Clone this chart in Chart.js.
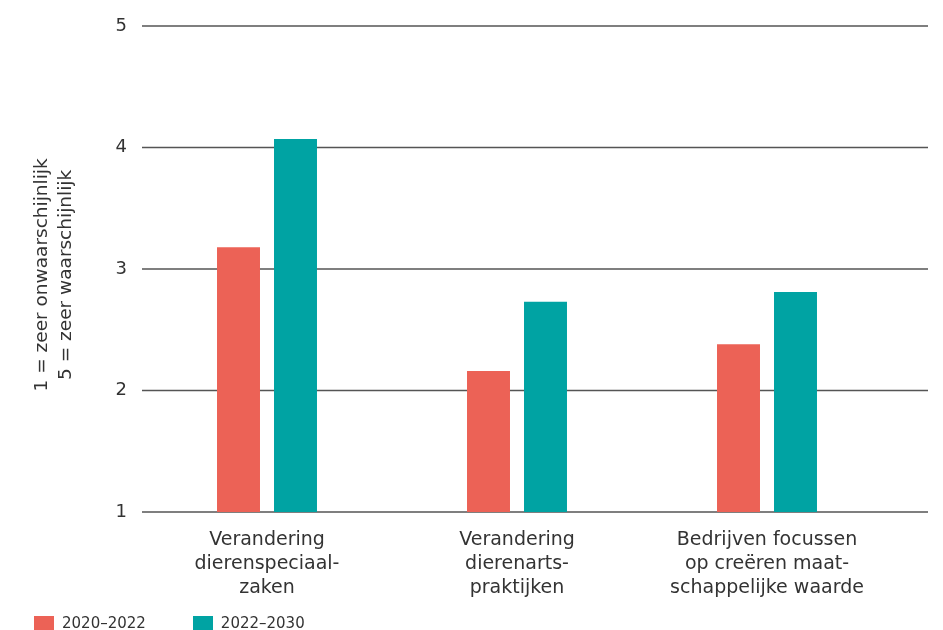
<!DOCTYPE html>
<html>
<head>
<meta charset="utf-8">
<script src="https://cdn.jsdelivr.net/npm/chart.js@4"></script>
<style>
  body { margin: 0; background: #fff; }
  #wrap { position: relative; width: 943px; height: 630px; }
  #legend { position: absolute; left: 34px; top: 614px; display: flex; font: 15px 'DejaVu Sans', sans-serif; color: #333; }
  .item { display: flex; align-items: center; }
  .box { width: 20px; height: 14px; margin-right: 8px; }
</style>
</head>
<body>
<div id="wrap">
  <canvas id="myChart" width="943" height="630"></canvas>
  <div id="legend"></div>
</div>
<script>
'use strict';

// ******* DATA *******
let categories = [
  ['Verandering', 'dierenspeciaal-', 'zaken'],
  ['Verandering', 'dierenarts-', 'praktijken'],
  ['Bedrijven focussen', 'op creëren maat-', 'schappelijke waarde']
];
let seriesNames = ['2020–2022', '2022–2030'];
let values2020 = [3.18, 2.16, 2.38];
let values2022 = [4.07, 2.73, 2.81];
let yTicks = [1, 2, 3, 4, 5];
let yTitle = ['1 = zeer onwaarschijnlijk', '5 = zeer waarschijnlijk'];

let colors = ['#EC6256', '#00A3A3'];
let fontFamily = "'DejaVu Sans', sans-serif";

// ***** PLUGIN: gridlines that run past the last category *****
const fullGrid = {
  id: 'fullGrid',
  beforeDatasetsDraw(chart) {
    const { ctx, chartArea, scales: { y } } = chart;
    ctx.save();
    ctx.strokeStyle = '#555';
    ctx.lineWidth = 1.5;
    y.ticks.forEach(t => {
      let py = y.getPixelForValue(t.value);
      ctx.beginPath();
      ctx.moveTo(chartArea.left, py);
      ctx.lineTo(chartArea.right + 36, py);
      ctx.stroke();
    });
    ctx.restore();
  }
};

// ***** CHART *****
const data = {
  labels: categories,
  datasets: [{
    label: seriesNames[0],
    data: values2020,
    backgroundColor: colors[0]
  },
  {
    label: seriesNames[1],
    data: values2022,
    backgroundColor: colors[1]
  }]
};

const config = {
  type: 'bar',
  data: data,
  options: {
    responsive: false,
    animation: false,
    datasets: {
      bar: { categoryPercentage: 0.456, barPercentage: 0.754 }
    },
    layout: { padding: { left: 0, right: 51, top: 26, bottom: 0 } },
    plugins: {
      legend: { display: false },
      tooltip: { enabled: false }
    },
    scales: {
      x: {
        grid: { display: false },
        border: { display: false },
        ticks: {
          color: '#333',
          padding: 8,
          maxRotation: 0,
          font: { family: fontFamily, size: 19, lineHeight: 1.26 }
        },
        afterFit(scale) { scale.height = 118; }
      },
      y: {
        min: 1,
        max: 5,
        grid: { display: false, drawTicks: false },
        border: { display: false },
        afterBuildTicks(scale) { scale.ticks = yTicks.map(v => ({ value: v })); },
        ticks: {
          color: '#333',
          padding: 15,
          font: { family: fontFamily, size: 18 }
        },
        title: {
          display: true,
          // trailing spaces nudge the rotated title a bit lower
          text: yTitle.map(t => t + '\u00a0\u00a0'),
          color: '#333',
          padding: { top: 30, bottom: 0 },
          font: { family: fontFamily, size: 18.5, lineHeight: 1.3 }
        },
        afterFit(scale) { scale.width = 142; }
      }
    }
  },
  plugins: [fullGrid]
};

let canvasChart = document.getElementById('myChart');
const myChart = new Chart(canvasChart, config);

// ***** LEGEND *****
let legend = document.getElementById('legend');
let legendGaps = [47, 0];
seriesNames.forEach((name, i) => {
  let item = document.createElement('div');
  item.className = 'item';
  item.style.marginRight = legendGaps[i] + 'px';
  item.innerHTML = `<span class="box" style="background:${colors[i]}"></span><span>${name}</span>`;
  legend.appendChild(item);
});
</script>
</body>
</html>
